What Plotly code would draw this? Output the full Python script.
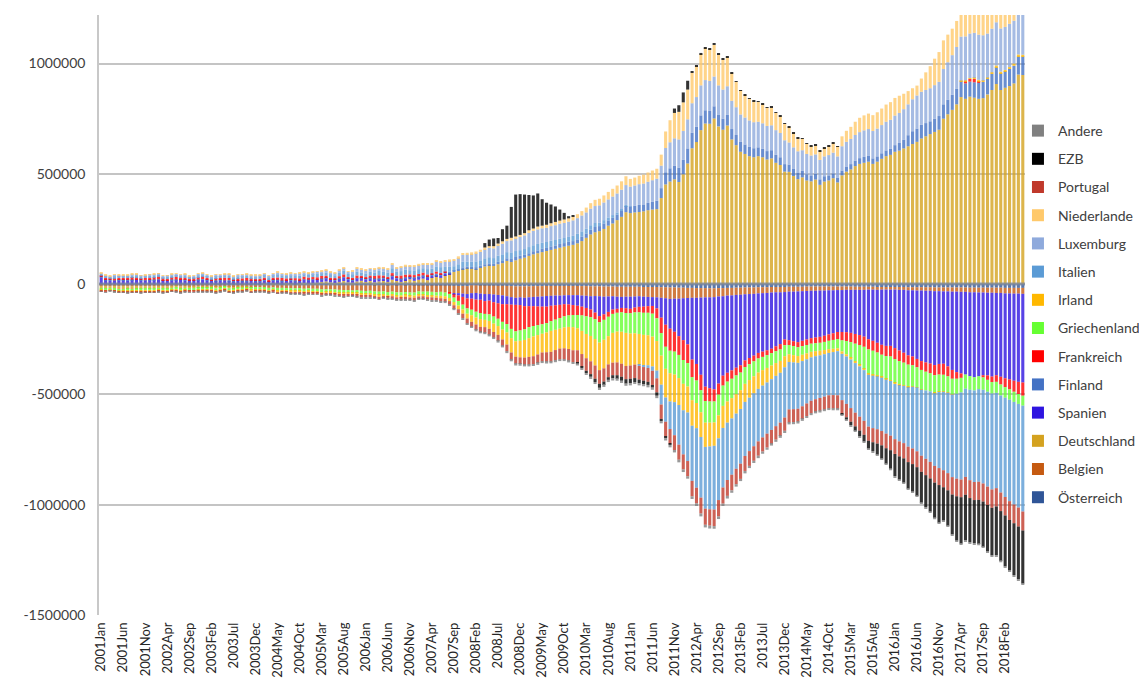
import plotly.graph_objects as go

# Monthly TARGET2 balances, values in thousands of the chart unit
UNIT = 1000
YEARS = list(range(2001, 2019))
MONTH_NAMES = ["Jan", "Feb", "Mar", "Apr", "May", "Jun", "Jul", "Aug", "Sep", "Oct", "Nov", "Dec"]
N_MONTHS = 210
categories = [f"{y}{m}" for y in YEARS for m in MONTH_NAMES][:N_MONTHS]
tick_labels = categories[::5]
y_ticks = [-1500000, -1000000, -500000, 0, 500000, 1000000]

oesterreich = [
    -3,-2,-3,-2,-3,-2,-3,-3,-2,-3,-2,-3,
    -3,-3,-2,-3,-3,-2,-3,-2,-3,-3,-2,-3,
    -3,-2,-3,-3,-2,-3,-3,-2,-3,-2,-3,-3,
    -3,-3,-4,-3,-3,-4,-3,-4,-3,-3,-4,-3,
    -4,-3,-4,-4,-3,-4,-4,-3,-4,-4,-3,-4,
    -4,-4,-5,-4,-4,-5,-4,-5,-4,-5,-4,-5,
    -5,-5,-6,-5,-6,-5,-6,-6,-7,-8,-8,-9,
    -4,-4,-5,-5,-6,-6,-7,-7,-8,-9,-10,-10,
    -10,-10,-9,-9,-9,-8,-8,-8,-8,-8,-8,-8,
    -8,-9,-9,-10,-10,-10,-11,-11,-11,-12,-12,-12,
    -12,-12,-12,-13,-13,-13,-13,-14,-14,-15,-15,-16,
    -16,-17,-17,-18,-18,-18,-19,-19,-18,-18,-17,-17,
    -16,-16,-15,-15,-15,-14,-14,-14,-13,-13,-13,-13,
    -12,-12,-12,-12,-11,-11,-11,-11,-11,-11,-11,-11,
    -11,-11,-11,-12,-12,-12,-12,-12,-13,-13,-13,-13,
    -13,-13,-13,-14,-14,-14,-14,-14,-14,-15,-15,-15,
    -15,-15,-15,-15,-15,-16,-16,-16,-16,-16,-16,-16,
    -16,-17,-17,-17,-17,-17,
]
belgien = [
    -5,-4,-6,-5,-6,-5,-7,-6,-5,-6,-7,-6,
    -6,-7,-6,-8,-7,-6,-8,-7,-9,-8,-7,-8,
    -8,-9,-10,-9,-8,-10,-11,-10,-9,-11,-12,-10,
    -11,-12,-13,-12,-14,-13,-15,-14,-16,-15,-17,-16,
    -17,-18,-20,-19,-21,-20,-22,-24,-23,-25,-24,-26,
    -27,-26,-28,-30,-29,-31,-30,-32,-33,-31,-34,-33,
    -28,-29,-28,-30,-31,-30,-32,-33,-34,-33,-35,-36,
    -37,-36,-38,-40,-39,-41,-42,-44,-47,-50,-52,-50,
    -52,-50,-49,-48,-47,-46,-45,-44,-44,-43,-42,-42,
    -42,-43,-44,-45,-44,-45,-46,-45,-44,-45,-46,-45,
    -45,-44,-43,-44,-45,-46,-47,-48,-50,-52,-51,-50,
    -48,-46,-45,-44,-43,-42,-41,-40,-38,-37,-35,-34,
    -33,-32,-31,-30,-29,-28,-27,-26,-25,-24,-24,-23,
    -22,-22,-21,-20,-20,-19,-19,-18,-18,-17,-17,-16,
    -16,-15,-15,-14,-14,-14,-13,-13,-13,-12,-12,-12,
    -12,-13,-13,-14,-14,-15,-15,-16,-16,-17,-17,-18,
    -18,-19,-19,-20,-20,-21,-21,-22,-22,-23,-23,-24,
    -24,-25,-25,-26,-26,-27,
]
deutschland = [
    -12,-14,-10,-12,-14,-16,-12,-14,-15,-12,-10,-13,
    -11,-9,-12,-10,-8,-7,-10,-9,-7,-6,-8,-6,
    -5,-4,-6,-3,-2,-5,-4,-2,-3,-1,-2,0,
    0,2,0,3,1,0,4,2,0,3,5,2,
    4,6,10,12,8,5,10,14,8,6,12,15,
    10,14,8,12,16,10,20,14,10,18,22,15,
    20,25,18,30,35,28,40,45,55,60,68,72,
    70,68,75,80,85,82,90,95,105,100,108,115,
    120,128,135,140,145,150,155,160,165,170,174,178,
    185,195,210,225,235,240,250,265,275,290,305,326,
    322,325,327,330,335,338,340,390,452,465,475,463,
    498,547,616,644,698,728,727,751,715,700,719,656,
    630,600,590,580,575,580,575,565,570,550,540,510,
    509,490,476,484,470,466,474,450,465,470,480,461,
    493,510,520,535,545,550,555,545,555,568,580,586,
    600,605,615,625,635,645,660,670,680,690,700,750,
    770,790,815,848,840,850,845,840,843,860,880,907,
    880,890,898,910,950,948,
]
spanien = [
    30,18,16,15,17,18,16,18,19,17,16,18,
    18,19,16,15,17,18,19,16,15,16,18,19,
    17,15,14,17,15,14,13,15,14,13,15,14,
    13,14,12,14,16,13,12,14,13,12,14,16,
    15,13,12,14,12,10,13,15,12,10,13,12,
    10,12,14,10,8,12,14,10,12,8,10,12,
    12,10,14,8,6,10,6,4,-5,-10,-15,-20,
    -25,-30,-28,-32,-30,-35,-38,-40,-36,-34,-32,-35,
    -38,-40,-42,-44,-46,-48,-45,-44,-42,-40,-42,-45,
    -48,-50,-55,-60,-75,-90,-80,-70,-60,-55,-50,-52,
    -55,-50,-48,-45,-42,-40,-50,-90,-120,-135,-150,-170,
    -190,-210,-280,-300,-350,-405,-412,-418,-395,-360,-350,-340,
    -330,-320,-300,-290,-280,-270,-265,-260,-255,-245,-235,-215,
    -220,-225,-230,-225,-220,-215,-212,-210,-205,-200,-195,-190,
    -190,-192,-195,-200,-205,-212,-225,-232,-240,-250,-255,-255,
    -265,-275,-285,-295,-300,-310,-320,-325,-330,-335,-330,-328,
    -340,-355,-365,-370,-375,-380,-385,-380,-375,-375,-380,-373,
    -380,-385,-390,-395,-400,-402,
]
finland = [
    3,2,3,2,3,4,3,2,3,3,2,3,
    3,3,2,3,4,3,2,3,3,2,3,4,
    3,2,3,3,2,4,3,3,2,3,3,2,
    3,3,2,4,3,3,2,3,4,3,3,2,
    3,4,3,2,3,4,3,3,4,3,2,3,
    4,3,3,4,5,3,4,4,3,5,4,4,
    4,5,4,5,6,5,6,7,6,7,8,8,
    8,9,8,10,9,10,11,10,12,14,15,14,
    13,12,14,13,15,14,16,15,17,16,18,17,
    18,20,19,22,24,23,25,24,26,25,27,28,
    28,30,32,31,33,35,38,45,55,60,62,65,
    66,68,70,69,67,60,58,55,52,50,48,47,
    46,45,43,42,41,40,39,38,37,36,35,34,
    33,32,30,29,28,27,26,25,24,23,22,22,
    22,23,24,25,26,27,26,25,24,25,26,27,
    30,35,40,50,58,60,62,60,58,60,62,65,
    66,68,70,72,70,68,70,72,74,72,74,76,
    76,75,78,80,82,84,
]
frankreich = [
    5,8,6,10,8,6,10,12,8,6,10,8,
    10,12,8,6,10,12,8,10,6,8,10,12,
    8,6,10,8,12,10,6,8,10,12,8,6,
    8,10,6,8,10,12,8,6,10,8,12,10,
    10,8,12,10,6,8,10,12,8,10,12,8,
    8,10,12,14,10,8,12,10,14,12,8,10,
    10,12,8,6,10,8,4,-5,-15,-25,-35,-45,
    -50,-55,-60,-58,-62,-65,-70,-80,-90,-110,-120,-115,
    -105,-95,-90,-85,-80,-75,-70,-65,-60,-55,-50,-45,
    -42,-40,-38,-35,-30,-28,-25,-22,-20,-18,-20,-22,
    -20,-22,-25,-28,-30,-35,-45,-70,-100,-100,-90,-85,
    -90,-85,-80,-75,-70,-65,-60,-55,-50,-45,-40,-38,
    -35,-33,-30,-28,-26,-25,-24,-22,-20,-22,-24,-26,
    -22,-22,-23,-24,-25,-25,-26,-27,-28,-29,-30,-32,
    -38,-40,-42,-44,-45,-46,-46,-45,-44,-45,-46,-48,
    -50,-48,-45,-42,-40,-38,-40,-42,-44,-46,-48,-50,
    -45,-40,-30,-20,10,12,15,8,-10,-20,-25,-30,
    -35,-40,-45,-50,-55,-60,
]
griechenland = [
    -6,-7,-5,-8,-6,-7,-8,-6,-7,-9,-8,-7,
    -8,-7,-9,-8,-6,-8,-9,-7,-8,-10,-9,-8,
    -9,-8,-10,-9,-8,-10,-11,-9,-10,-8,-9,-11,
    -10,-9,-11,-10,-12,-11,-10,-12,-11,-13,-12,-11,
    -12,-11,-13,-12,-10,-12,-14,-13,-12,-11,-13,-14,
    -13,-12,-14,-15,-13,-14,-12,-15,-14,-13,-15,-14,
    -15,-14,-16,-17,-15,-18,-17,-19,-20,-21,-22,-24,
    -25,-26,-28,-27,-30,-32,-33,-35,-38,-42,-45,-47,
    -48,-50,-47,-45,-43,-42,-44,-46,-48,-50,-52,-55,
    -60,-70,-80,-85,-90,-92,-90,-88,-86,-85,-88,-90,
    -92,-95,-98,-100,-102,-104,-103,-102,-100,-102,-104,-105,
    -108,-106,-104,-102,-100,-98,-96,-95,-94,-92,-90,-88,
    -85,-80,-76,-72,-68,-64,-60,-58,-56,-54,-52,-50,
    -42,-41,-40,-39,-38,-37,-36,-36,-37,-38,-40,-42,
    -50,-60,-70,-80,-90,-100,-110,-108,-104,-100,-104,-108,
    -108,-105,-102,-100,-95,-90,-88,-85,-82,-80,-78,-75,
    -72,-70,-68,-66,-64,-62,-60,-58,-56,-54,-52,-50,
    -50,-48,-47,-46,-45,-45,
]
irland = [
    -3,-4,-3,-4,-3,-4,-5,-4,-3,-4,-5,-4,
    -4,-5,-4,-3,-4,-5,-4,-5,-4,-3,-4,-5,
    -5,-4,-5,-6,-5,-4,-5,-6,-5,-4,-6,-5,
    -5,-6,-5,-6,-7,-5,-6,-7,-6,-5,-7,-6,
    -6,-7,-6,-7,-8,-6,-7,-8,-7,-6,-8,-7,
    -7,-8,-7,-9,-8,-7,-9,-8,-10,-9,-8,-10,
    -8,-7,-9,-8,-10,-11,-12,-14,-15,-17,-19,-22,
    -30,-32,-35,-33,-36,-38,-40,-45,-55,-65,-70,-75,
    -80,-85,-90,-88,-85,-90,-95,-92,-90,-95,-100,-105,
    -100,-105,-110,-115,-120,-125,-130,-128,-135,-140,-145,-150,
    -145,-142,-140,-138,-136,-135,-134,-132,-130,-128,-125,-122,
    -120,-118,-116,-114,-112,-110,-108,-106,-104,-100,-96,-92,
    -88,-85,-82,-80,-77,-74,-70,-66,-62,-58,-54,-50,
    -35,-33,-31,-29,-27,-25,-23,-21,-19,-17,-15,-13,
    -11,-10,-9,-8,-7,-6,-5,-5,-4,-4,-3,-3,
    -5,-4,-3,-2,-2,-1,-1,0,0,-1,-1,-2,
    -2,-1,0,2,3,4,5,6,5,4,6,8,
    7,6,8,10,9,8,
]
italien = [
    8,6,7,9,6,8,7,6,9,8,7,8,
    7,8,6,9,7,8,6,9,7,6,8,9,
    8,7,9,8,10,9,7,8,10,9,8,10,
    10,12,9,11,13,10,12,14,11,13,10,12,
    13,15,12,14,16,13,15,17,14,16,18,15,
    16,18,15,20,17,19,22,18,20,23,19,21,
    22,20,24,21,23,26,22,24,20,23,26,22,
    24,26,25,27,28,26,28,30,28,30,27,25,
    26,28,27,29,28,27,26,25,24,23,22,24,
    25,24,22,20,18,16,15,13,12,10,8,5,
    2,0,-5,-8,-12,-20,-35,-90,-110,-125,-150,-180,
    -200,-220,-250,-270,-275,-280,-285,-289,-280,-270,-260,-255,
    -250,-248,-245,-242,-240,-238,-235,-232,-230,-228,-226,-228,
    -215,-212,-208,-205,-200,-197,-195,-193,-192,-192,-195,-200,
    -210,-215,-220,-225,-228,-230,-235,-238,-240,-242,-245,-248,
    -250,-255,-260,-270,-280,-290,-300,-310,-320,-330,-345,-356,
    -365,-375,-385,-395,-400,-410,-415,-420,-425,-430,-435,-432,
    -440,-450,-460,-465,-470,-480,
]
luxemburg = [
    4,5,4,6,5,4,5,6,5,4,6,5,
    5,6,5,4,6,5,7,6,5,6,7,5,
    6,5,7,6,5,7,6,8,7,6,5,7,
    7,6,8,7,9,8,7,9,8,10,9,8,
    9,10,8,11,9,10,12,11,9,11,13,12,
    13,12,14,13,15,14,16,15,17,16,18,17,
    18,17,19,20,22,21,23,24,26,28,30,32,
    34,36,38,40,42,44,46,48,50,54,58,60,
    62,64,65,66,65,64,66,67,68,68,69,70,
    71,72,74,75,77,78,80,82,84,86,88,90,
    90,92,94,95,96,98,100,102,110,118,124,128,
    130,132,134,135,136,137,136,135,134,132,130,128,
    126,124,122,120,118,116,115,114,113,112,110,108,
    100,98,96,94,92,90,88,88,90,92,94,96,
    110,112,114,116,118,120,122,124,126,128,130,132,
    134,136,138,140,145,150,150,150,150,152,155,160,
    170,180,190,200,200,202,204,205,206,200,198,196,
    196,195,196,194,198,200,
]
niederlande = [
    2,3,2,2,3,2,3,2,2,3,2,3,
    3,2,3,2,3,3,2,3,2,3,3,2,
    3,3,2,3,3,2,3,3,2,3,3,3,
    3,3,4,3,3,4,3,4,3,3,4,3,
    4,3,4,4,3,4,4,5,4,4,5,4,
    5,4,5,5,4,5,6,5,5,6,5,6,
    6,5,6,6,7,6,7,8,7,8,9,8,
    8,9,10,9,8,10,9,11,10,12,8,9,
    10,12,11,13,12,14,13,15,14,16,15,17,
    18,20,22,25,28,30,32,34,35,36,38,40,
    35,36,38,40,42,44,45,50,75,100,115,125,
    130,135,138,140,142,145,144,143,140,135,130,125,
    115,108,102,98,94,90,86,82,80,78,76,74,
    70,64,58,52,46,42,40,38,38,40,42,45,
    45,50,55,60,65,68,70,72,74,75,78,80,
    80,78,70,60,50,45,60,80,100,120,135,130,
    125,120,118,120,122,125,124,120,118,115,112,110,
    110,108,106,105,104,104,
]
portugal = [
    -4,-5,-3,-4,-5,-4,-3,-5,-4,-6,-5,-4,
    -5,-4,-6,-5,-4,-6,-5,-4,-5,-6,-4,-5,
    -5,-6,-4,-5,-6,-5,-4,-6,-5,-4,-6,-5,
    -6,-5,-7,-6,-5,-7,-6,-5,-7,-6,-8,-6,
    -7,-6,-8,-7,-6,-8,-7,-9,-8,-7,-9,-8,
    -8,-9,-7,-10,-8,-9,-11,-10,-9,-11,-10,-12,
    -11,-12,-10,-13,-12,-14,-13,-15,-16,-18,-20,-22,
    -22,-24,-23,-25,-26,-25,-27,-28,-30,-32,-31,-30,
    -32,-34,-36,-38,-40,-42,-44,-46,-48,-50,-52,-54,
    -55,-56,-57,-58,-60,-62,-60,-58,-57,-58,-59,-60,
    -60,-61,-62,-62,-63,-64,-64,-65,-66,-66,-67,-68,
    -68,-69,-70,-71,-72,-73,-74,-75,-74,-73,-72,-71,
    -70,-69,-68,-67,-66,-65,-64,-63,-62,-61,-60,-60,
    -59,-58,-58,-57,-57,-56,-56,-57,-58,-59,-60,-60,
    -61,-61,-62,-62,-63,-63,-64,-64,-65,-65,-66,-66,
    -67,-68,-69,-70,-71,-72,-73,-74,-75,-76,-77,-77,
    -78,-79,-80,-80,-81,-81,-82,-82,-82,-83,-83,-83,
    -84,-84,-85,-85,-86,-86,
]
ezb = [
    0,0,0,0,0,0,0,0,0,0,0,0,
    0,0,0,0,0,0,0,0,0,0,0,0,
    0,0,0,0,0,0,0,0,0,0,0,0,
    0,0,0,0,0,0,0,0,0,0,0,0,
    0,0,0,0,0,0,0,0,0,0,0,0,
    0,0,0,0,0,0,0,0,0,0,0,0,
    0,0,0,0,0,0,0,0,0,0,0,0,
    0,0,0,20,30,35,25,55,60,140,190,185,
    175,160,150,150,120,100,85,70,50,30,10,5,
    -5,-8,-10,-12,-15,-18,-15,-12,-14,-16,-18,-20,
    -20,-18,-16,-15,-14,-12,-15,-10,-8,-5,20,30,
    45,40,8,5,5,4,5,5,4,4,3,3,
    3,3,3,3,3,3,3,3,3,3,3,3,
    3,3,3,3,3,3,3,3,3,3,2,2,
    -5,-10,-15,-20,-25,-30,-35,-40,-50,-60,-70,-85,
    -100,-105,-110,-120,-125,-130,-140,-145,-150,-160,-170,-150,
    -160,-180,-200,-210,-205,-200,-195,-200,-205,-210,-215,-220,
    -226,-230,-228,-235,-238,-240,
]
andere = [
    -2,-3,-2,-2,-3,-2,-3,-2,-2,-3,-2,-3,
    -3,-2,-3,-2,-2,-3,-2,-3,-3,-2,-3,-2,
    -2,-3,-3,-2,-3,-2,-3,-3,-2,-3,-2,-3,
    -3,-3,-2,-3,-3,-4,-3,-3,-4,-3,-3,-4,
    -3,-4,-3,-4,-3,-4,-4,-3,-4,-4,-3,-4,
    -4,-4,-3,-4,-5,-4,-4,-5,-4,-5,-4,-5,
    -5,-4,-5,-5,-6,-5,-6,-5,-6,-6,-7,-6,
    -6,-7,-6,-7,-8,-7,-8,-8,-9,-8,-9,-8,
    -8,-9,-8,-9,-8,-9,-8,-9,-9,-8,-9,-8,
    -9,-8,-9,-10,-9,-10,-9,-10,-10,-9,-10,-10,
    -10,-9,-10,-10,-11,-10,-11,-10,-11,-12,-11,-12,
    -12,-11,-12,-12,-13,-12,-13,-12,-12,-11,-12,-11,
    -11,-10,-11,-10,-10,-11,-10,-10,-9,-10,-9,-10,
    -9,-10,-9,-9,-8,-9,-8,-9,-8,-8,-9,-8,
    -5,-5,-6,-5,-5,-6,-5,-5,-6,-5,-5,-6,
    -5,-6,-5,-6,-6,-5,-6,-6,-5,-6,-6,-6,
    -6,-6,-5,-6,-6,-5,-6,-6,-5,-6,-6,-7,
    -6,-7,-6,-7,-7,-7,
]

series_names = ["Österreich", "Belgien", "Deutschland", "Spanien", "Finland", "Frankreich",
                "Griechenland", "Irland", "Italien", "Luxemburg", "Niederlande", "Portugal",
                "EZB", "Andere"]
series_values = [oesterreich, belgien, deutschland, spanien, finland, frankreich,
                 griechenland, irland, italien, luxemburg, niederlande, portugal, ezb, andere]
series_colors = ["#2F5597", "#C55A11", "#D4A21F", "#2E14E0", "#4472C4", "#FF0000",
                 "#66FF33", "#FFB800", "#5B9BD5", "#8FAADC", "#FFC96B", "#C0392B",
                 "#000000", "#808080"]

for nm, vals in zip(series_names, series_values):
    if len(vals) != N_MONTHS:
        raise ValueError(f"{nm}: {len(vals)}")

FONT = "Lato, 'Open Sans', sans-serif"

fig = go.Figure()
n_series = len(series_names)
for i, (nm, vals, col) in enumerate(zip(series_names, series_values, series_colors)):
    fig.add_trace(go.Bar(
        x=categories, y=[v * UNIT for v in vals], name=nm, legendgroup=nm,
        legendrank=1000 - i,
        marker=dict(color=col, opacity=0.8, line=dict(width=0)),
    ))

fig.update_layout(
    width=1139, height=673,
    margin=dict(l=91, r=122, t=7, b=66, autoexpand=False),
    barmode="relative", bargap=0.3,
    plot_bgcolor="white", paper_bgcolor="white",
    font=dict(family=FONT, size=14, color="#404040"),
    showlegend=True,
    legend=dict(
        traceorder="grouped", x=0.9924, y=0.8333, xanchor="left", yanchor="top",
        font=dict(family=FONT, size=14, color="#404040"),
        tracegroupgap=7, itemwidth=30, bgcolor="rgba(0,0,0,0)",
    ),
    xaxis=dict(
        type="category", tickmode="array", tickvals=tick_labels, ticktext=tick_labels,
        tickangle=-90, tickfont=dict(family=FONT, size=13, color="#262626"),
        showgrid=False, showline=False, ticks="", automargin=False,
        ticklabelstandoff=4,
    ),
    yaxis=dict(
        range=[-1500000, 1220000], tickmode="array", tickvals=y_ticks,
        ticktext=[str(v) for v in y_ticks],
        tickfont=dict(family=FONT, size=14, color="#404040"),
        showgrid=True, gridcolor="#c4c4c4", gridwidth=1.5,
        zeroline=False, showline=True, linecolor="#c8c8c8", linewidth=1.5,
        ticks="", automargin=False, ticklabelstandoff=9,
    ),
    shapes=[dict(type="line", xref="paper", yref="y", x0=0, x1=1, y0=0, y1=0,
                 layer="above", line=dict(color="rgba(120,135,160,0.75)", width=3))],
)

fig.write_html("out.html")
